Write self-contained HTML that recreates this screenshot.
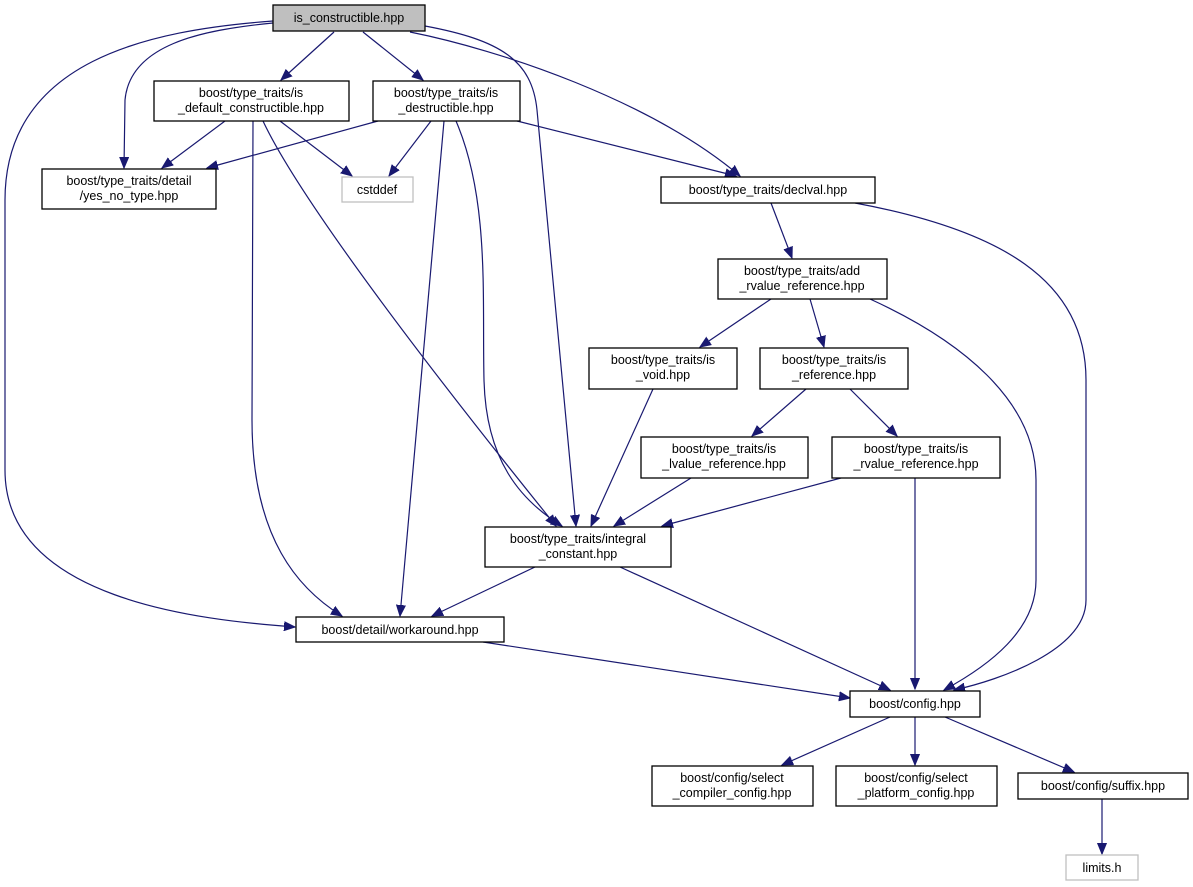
<!DOCTYPE html>
<html><head><meta charset="utf-8"><style>
html,body{margin:0;padding:0;background:#fff;}
svg{display:block;}
text{font-family:"Liberation Sans",sans-serif;font-size:12.5px;fill:#000;text-anchor:middle;}
.n{fill:#fff;stroke:#000;stroke-width:1.3;}
.g{fill:#fff;stroke:#bfbfbf;stroke-width:1.3;}
.e{fill:none;stroke:#191970;stroke-width:1.2;marker-end:url(#a);}
</style></head><body>
<svg width="1193" height="887" viewBox="0 0 1193 887" xmlns="http://www.w3.org/2000/svg">
<defs><marker id="a" markerUnits="userSpaceOnUse" markerWidth="12" markerHeight="10" refX="11" refY="5" orient="auto"><path d="M0,0.5 L11,5 L0,9.5 z" fill="#191970" stroke="#191970"/></marker></defs>
<!-- edges -->
<path class="e" d="M334,32 L281,80"/>
<path class="e" d="M363,32 L423,80"/>
<path class="e" d="M273,23 C200,30 130,45 125,100 L124,168"/>
<path class="e" d="M273,21 C150,30 5,60 5,200 L5,470 C5,600 200,620 295,627"/>
<path class="e" d="M425,26 C500,40 532,60 537,110 L576,526"/>
<path class="e" d="M410,32 C500,50 650,100 740,176"/>
<path class="e" d="M225,121 L162,168"/>
<path class="e" d="M280,121 L352,176"/>
<path class="e" d="M253,121 L252,420 C252,540 300,590 342,616"/>
<path class="e" d="M263,121 C300,200 430,370 556,526"/>
<path class="e" d="M378,121 L207,168"/>
<path class="e" d="M431,121 L389,176"/>
<path class="e" d="M444,121 L400,616"/>
<path class="e" d="M456,121 C490,200 482,300 484,380 C486,460 520,500 562,526"/>
<path class="e" d="M517,121 L736,176"/>
<path class="e" d="M771,203 L792,258"/>
<path class="e" d="M855,203 C1000,230 1086,280 1086,380 L1086,600 C1086,650 1000,680 954,690"/>
<path class="e" d="M771,299 L700,347"/>
<path class="e" d="M810,299 L824,347"/>
<path class="e" d="M870,299 C960,340 1036,400 1036,480 L1036,580 C1036,630 990,665 944,690"/>
<path class="e" d="M653,389 L591,526"/>
<path class="e" d="M806,389 L752,436"/>
<path class="e" d="M850,389 L897,436"/>
<path class="e" d="M691,478 L614,526"/>
<path class="e" d="M841,478 L662,526"/>
<path class="e" d="M915,478 L915,689"/>
<path class="e" d="M535,567 L432,616"/>
<path class="e" d="M620,567 L890,690"/>
<path class="e" d="M483,642 L850,698"/>
<path class="e" d="M890,717 L782,765"/>
<path class="e" d="M915,717 L915,765"/>
<path class="e" d="M945,717 L1074,772"/>
<path class="e" d="M1102,799 L1102,854"/>
<!-- nodes -->
<rect x="273" y="5" width="152" height="26" fill="#bfbfbf" stroke="#000" stroke-width="1.3"/>
<text x="349" y="22">is_constructible.hpp</text>
<rect class="n" x="154" y="81" width="195" height="40"/>
<text x="251" y="97">boost/type_traits/is</text><text x="251" y="112">_default_constructible.hpp</text>
<rect class="n" x="373" y="81" width="147" height="40"/>
<text x="446" y="97">boost/type_traits/is</text><text x="446" y="112">_destructible.hpp</text>
<rect class="n" x="42" y="169" width="174" height="40"/>
<text x="129" y="185">boost/type_traits/detail</text><text x="129" y="200">/yes_no_type.hpp</text>
<rect class="g" x="342" y="177" width="71" height="25"/>
<text x="377" y="194">cstddef</text>
<rect class="n" x="661" y="177" width="214" height="26"/>
<text x="768" y="194">boost/type_traits/declval.hpp</text>
<rect class="n" x="718" y="259" width="169" height="40"/>
<text x="802" y="275">boost/type_traits/add</text><text x="802" y="290">_rvalue_reference.hpp</text>
<rect class="n" x="589" y="348" width="148" height="41"/>
<text x="663" y="364">boost/type_traits/is</text><text x="663" y="379">_void.hpp</text>
<rect class="n" x="760" y="348" width="148" height="41"/>
<text x="834" y="364">boost/type_traits/is</text><text x="834" y="379">_reference.hpp</text>
<rect class="n" x="641" y="437" width="167" height="41"/>
<text x="724" y="453">boost/type_traits/is</text><text x="724" y="468">_lvalue_reference.hpp</text>
<rect class="n" x="832" y="437" width="168" height="41"/>
<text x="916" y="453">boost/type_traits/is</text><text x="916" y="468">_rvalue_reference.hpp</text>
<rect class="n" x="485" y="527" width="186" height="40"/>
<text x="578" y="543">boost/type_traits/integral</text><text x="578" y="558">_constant.hpp</text>
<rect class="n" x="296" y="617" width="208" height="25"/>
<text x="400" y="634">boost/detail/workaround.hpp</text>
<rect class="n" x="850" y="691" width="130" height="26"/>
<text x="915" y="708">boost/config.hpp</text>
<rect class="n" x="652" y="766" width="161" height="40"/>
<text x="732" y="782">boost/config/select</text><text x="732" y="797">_compiler_config.hpp</text>
<rect class="n" x="836" y="766" width="161" height="40"/>
<text x="916" y="782">boost/config/select</text><text x="916" y="797">_platform_config.hpp</text>
<rect class="n" x="1018" y="773" width="170" height="26"/>
<text x="1103" y="790">boost/config/suffix.hpp</text>
<rect class="g" x="1066" y="855" width="72" height="25"/>
<text x="1102" y="872">limits.h</text>
</svg>
</body></html>
